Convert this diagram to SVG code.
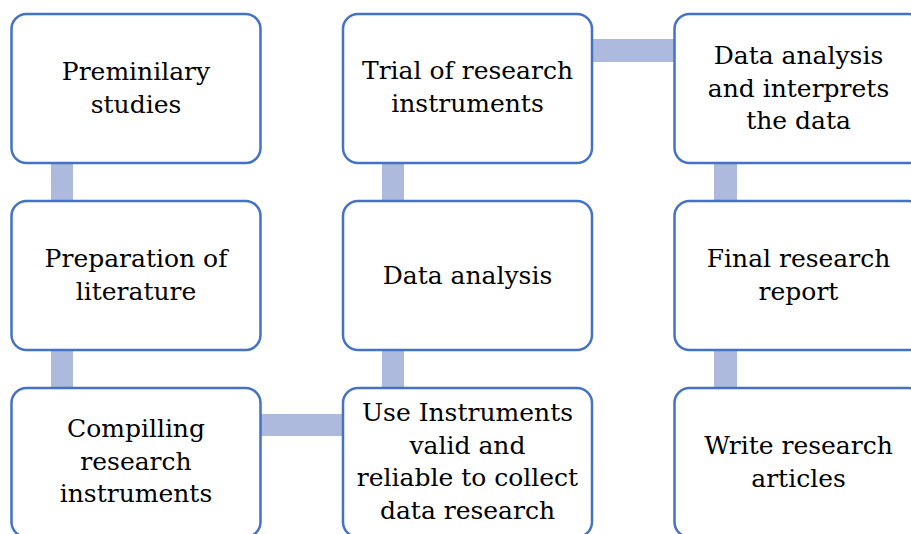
<svg xmlns="http://www.w3.org/2000/svg" width="911" height="534" viewBox="0 0 911 534">
<style>
.box{fill:#fff;stroke:#4472C4;stroke-width:2.5}
.bar{fill:#AEBADD}
text{font-family:"DejaVu Serif","Liberation Serif",serif;font-size:25px;fill:#000;text-anchor:middle}
</style>
<rect width="911" height="534" fill="#fff"/>
<g id="connectors">
<rect class="bar" x="51" y="160" width="22" height="44"/>
<rect class="bar" x="51" y="347" width="22" height="44"/>
<rect class="bar" x="382" y="160" width="22" height="44"/>
<rect class="bar" x="382" y="347" width="22" height="44"/>
<rect class="bar" x="714" y="160" width="23" height="44"/>
<rect class="bar" x="714" y="347" width="23" height="44"/>
<rect class="bar" x="258" y="414" width="88" height="22"/>
<rect class="bar" x="589" y="39" width="88" height="23"/>
</g>
<g id="n1"><rect class="box" x="11.5" y="14" width="249" height="149" rx="15"/><text x="136" y="80">Preminilary</text><text x="136" y="113">studies</text></g>
<g id="n2"><rect class="box" x="11.5" y="201" width="249" height="149" rx="15"/><text x="136" y="267">Preparation of</text><text x="136" y="300">literature</text></g>
<g id="n3"><rect class="box" x="11.5" y="388" width="249" height="149" rx="15"/><text x="136" y="437">Compilling</text><text x="136" y="470">research</text><text x="136" y="502">instruments</text></g>
<g id="n4"><rect class="box" x="343" y="14" width="249" height="149" rx="15"/><text x="467.5" y="79">Trial of research</text><text x="467.5" y="112">instruments</text></g>
<g id="n5"><rect class="box" x="343" y="201" width="249" height="149" rx="15"/><text x="467.5" y="284">Data analysis</text></g>
<g id="n6"><rect class="box" x="343" y="388" width="249" height="149" rx="15"/><text x="467.5" y="421">Use Instruments</text><text x="467.5" y="454">valid and</text><text x="467.5" y="486">reliable to collect</text><text x="467.5" y="519">data research</text></g>
<g id="n7"><rect class="box" x="674.5" y="14" width="249" height="149" rx="15"/><text x="798.5" y="64">Data analysis</text><text x="798.5" y="97">and interprets</text><text x="798.5" y="129">the data</text></g>
<g id="n8"><rect class="box" x="674.5" y="201" width="249" height="149" rx="15"/><text x="798.5" y="267">Final research</text><text x="798.5" y="300">report</text></g>
<g id="n9"><rect class="box" x="674.5" y="388" width="249" height="149" rx="15"/><text x="798.5" y="454">Write research</text><text x="798.5" y="487">articles</text></g>
</svg>
